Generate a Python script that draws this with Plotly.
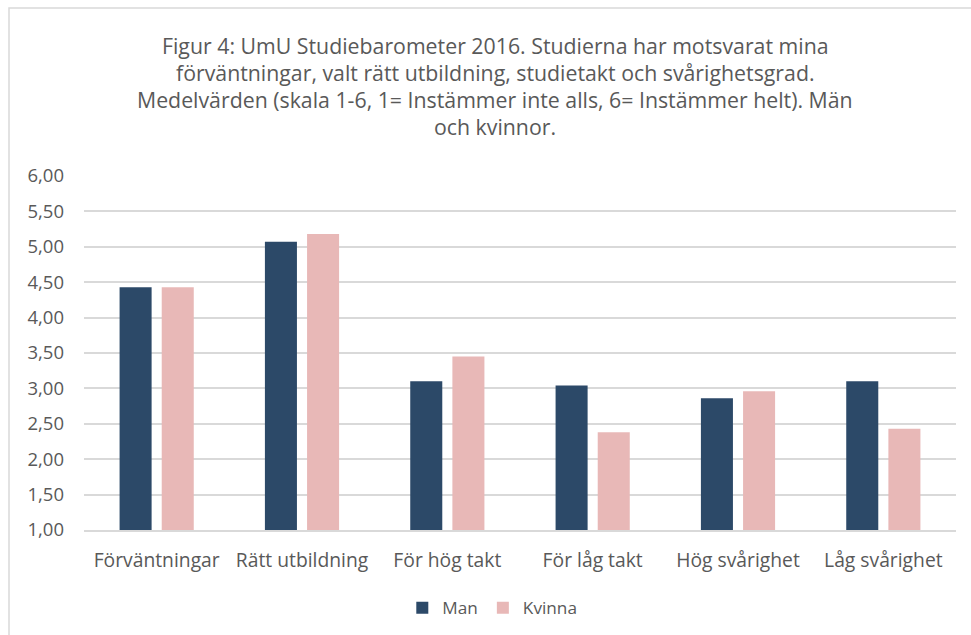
import plotly.graph_objects as go

categories = ["Förväntningar", "Rätt utbildning", "För hög takt", "För låg takt", "Hög svårighet", "Låg svårighet"]
man = [4.43, 5.07, 3.10, 3.04, 2.86, 3.10]
kvinna = [4.43, 5.18, 3.45, 2.38, 2.96, 2.43]
y_ticks = [1.0, 1.5, 2.0, 2.5, 3.0, 3.5, 4.0, 4.5, 5.0, 5.5, 6.0]

title_lines = [
    "Figur 4: UmU Studiebarometer 2016. Studierna har motsvarat mina",
    "förväntningar, valt rätt utbildning, studietakt och svårighetsgrad.",
    "Medelvärden (skala 1-6, 1= Instämmer inte alls, 6= Instämmer helt). Män",
    "och kvinnor.",
]

FONT = "Open Sans, Carlito, Calibri, sans-serif"
GRAY = "#595959"

fig = go.Figure()
fig.add_trace(go.Bar(x=categories, y=man, name="Man", marker=dict(color="#2C4968", line=dict(width=0))))
fig.add_trace(go.Bar(x=categories, y=kvinna, name="Kvinna", marker=dict(color="#E8B8B7", line=dict(width=0))))

W, H = 971, 635
ml, mr, mt, mb = 84, 15, 176, 105
pw, ph = W - ml - mr, H - mt - mb

line_centers_px = [45, 72, 99, 126]
annotations = [
    dict(text=t, xref="paper", yref="paper", x=(495 - ml) / pw, y=(H - mb - yc) / ph,
         xanchor="center", yanchor="middle", showarrow=False,
         font=dict(family=FONT, size=21.3, color=GRAY))
    for t, yc in zip(title_lines, line_centers_px)
]

fig.update_layout(
    width=W, height=H,
    margin=dict(l=ml, r=mr, t=mt, b=mb, pad=0),
    paper_bgcolor="white", plot_bgcolor="white",
    separators=", ",
    font=dict(family=FONT, color=GRAY, size=17),
    annotations=annotations,
    barmode="group", bargap=0.42, bargroupgap=0.24,
    showlegend=True,
    legend=dict(orientation="h", x=0.507, xanchor="center", xref="container",
                y=(H - 608) / H, yanchor="middle", yref="container",
                font=dict(family=FONT, size=17.2, color=GRAY), itemwidth=30, traceorder="normal"),
    xaxis=dict(showgrid=False, showline=True, linecolor="#D9D9D9", linewidth=1.5,
               ticks="", tickfont=dict(family=FONT, size=19.3, color=GRAY), ticklabelstandoff=12),
    yaxis=dict(range=[1, 6], tickvals=y_ticks, tickformat=".2f", showgrid=True,
               gridcolor="#D9D9D9", gridwidth=1.5, zeroline=False, showline=False,
               ticks="", tickfont=dict(family=FONT, size=18.5, color=GRAY), ticklabelstandoff=19),
    shapes=[dict(type="rect", xref="paper", yref="paper",
                 x0=(9 - ml) / pw, x1=(W + 20 - ml) / pw,
                 y0=-(mb + 20) / ph, y1=(H - mb - 8) / ph,
                 line=dict(color="#D9D9D9", width=1.5), fillcolor="rgba(0,0,0,0)", layer="below")],
)

fig.write_html("out.html", config={"displayModeBar": False},
               post_script="document.body.style.margin='0';document.body.style.overflow='hidden';")
